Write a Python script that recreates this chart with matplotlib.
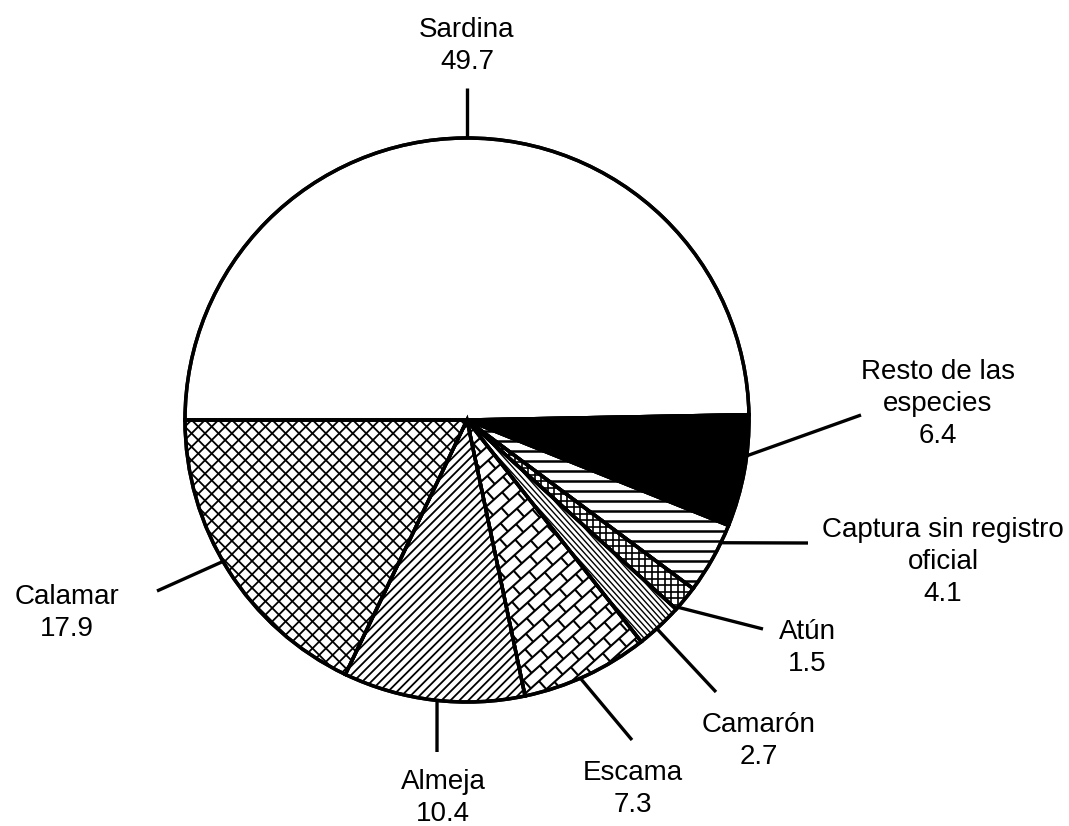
import numpy as np
import matplotlib
matplotlib.use('Agg')
import matplotlib.pyplot as plt
from matplotlib.collections import LineCollection
from matplotlib.patches import PathPatch

# data: share of the catch (%)
labels = ['Sardina', 'Resto de las\nespecies', 'Captura sin registro\noficial',
          'Atún', 'Camarón', 'Escama', 'Almeja', 'Calamar']
values = [49.7, 6.4, 4.1, 1.5, 2.7, 7.3, 10.4, 17.9]

# layout (pixels of the 1069x826 picture)
W, H = 1069, 826
CX, CY, R = 467, 420, 282
text_px = [(467, 30), (938, 372), (943, 530), (807, 632),
           (759, 725), (633, 773), (443, 782), (67, 597)]
leader_ang = [90, -7.3, -25.8, -41.6, -47.7, -66.3, -96.1, -149.9]
leader_end = [(467, 88), (861, 415), (808, 543), (763, 629),
              (716, 692), (632, 740), (437, 752), (157, 591)]
LINE_GAP = 32


def px(x, y):
    # picture pixels -> pie units (radius 1 at the centre)
    return (x - CX) / R, (CY - y) / R


def hatch_lines(ax, wedge, angle, gap_px, lw):
    # parallel lines at `angle` degrees, clipped to the wedge
    t = np.deg2rad(angle)
    d = np.array([np.cos(t), np.sin(t)])
    n = np.array([-np.sin(t), np.cos(t)])
    gap = gap_px / R
    segs = []
    for k in np.arange(-1.6, 1.6, gap):
        p = n * k
        segs.append([p - d * 1.6, p + d * 1.6])
    lc = LineCollection(segs, colors='black', linewidths=lw, zorder=3)
    lc.set_clip_path(wedge)
    ax.add_collection(lc)


def bricks(ax, wedge, angle, length_px, height_px, lw):
    t = np.deg2rad(angle)
    d = np.array([np.cos(t), np.sin(t)])
    n = np.array([-np.sin(t), np.cos(t)])
    L, h = length_px / R, height_px / R
    segs = []
    rows = np.arange(-1.6, 1.6, h)
    for i, v in enumerate(rows):
        segs.append([n * v - d * 1.6, n * v + d * 1.6])
        off = (i % 2) * L / 2
        for u in np.arange(-1.6 + off, 1.6, L):
            segs.append([n * v + d * u, n * (v + h) + d * u])
    lc = LineCollection(segs, colors='black', linewidths=lw, zorder=3)
    lc.set_clip_path(wedge)
    ax.add_collection(lc)


fig = plt.figure(figsize=(W / 100, H / 100), dpi=100)
ax = fig.add_axes([0, 0, 1, 1])

colors = ['white', 'black'] + ['white'] * 6
wedges, _ = ax.pie(values, startangle=180, counterclock=False, colors=colors,
                   wedgeprops=dict(edgecolor='black', linewidth=2.5))

# fills
hatch_lines(ax, wedges[2], 0, 10, 1.8)           # Captura: horizontal
hatch_lines(ax, wedges[3], 0, 6.5, 1.2)          # Atún: fine grid
hatch_lines(ax, wedges[3], 90, 6.5, 1.2)
hatch_lines(ax, wedges[4], -48, 4.2, 1.0)        # Camarón
bricks(ax, wedges[5], 42, 22, 11, 1.5)           # Escama
hatch_lines(ax, wedges[6], 45, 6.3, 1.3)         # Almeja
hatch_lines(ax, wedges[7], 45, 9.5, 1.3)         # Calamar: crosshatch
hatch_lines(ax, wedges[7], -45, 9.5, 1.3)

# outlines on top of the fills
for w in wedges:
    ax.add_patch(PathPatch(w.get_path(), fill=False, edgecolor='black',
                           linewidth=2.5, zorder=4, transform=w.get_transform()))

# leader lines and labels
for lab, val, tp, ang, le in zip(labels, values, text_px, leader_ang, leader_end):
    a = np.deg2rad(ang)
    x1, y1 = px(*le)
    ax.plot([np.cos(a), x1], [np.sin(a), y1], color='black', lw=2.4,
            solid_capstyle='butt', zorder=5)
    lines = lab.split('\n') + [str(val)]
    for i, s in enumerate(lines):
        x, y = px(tp[0], tp[1] + i * LINE_GAP)
        ax.text(x, y, s, ha='center', va='center', fontsize=20,
                family='Liberation Sans', color='black')

ax.set_xlim(-CX / R, (W - CX) / R)
ax.set_ylim(-(H - CY) / R, CY / R)
ax.axis('off')

fig.savefig('out.png', dpi=100, facecolor='white')
